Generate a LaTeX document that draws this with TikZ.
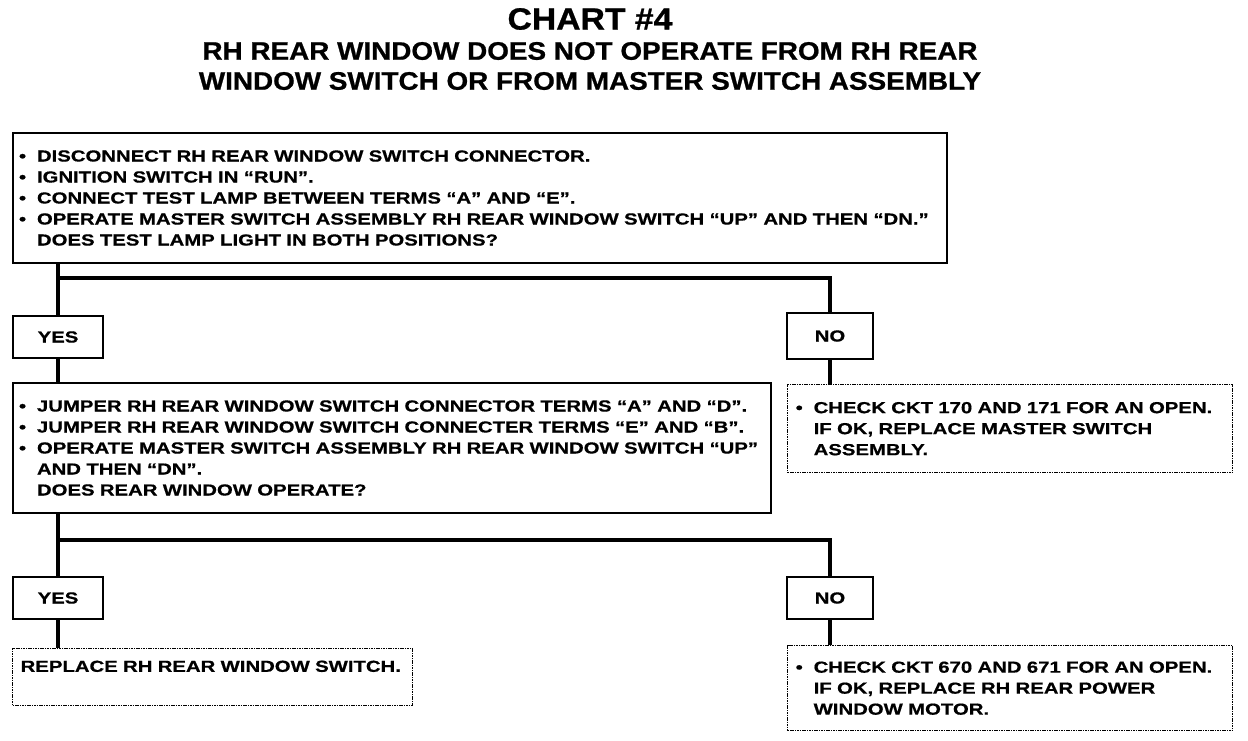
\documentclass[tikz,border=0pt]{standalone}
\usepackage{fontspec}
\setmainfont{Liberation Sans}[FakeStretch=1.27,FakeBold=0.6]
\newfontfamily\titlefont{Liberation Sans}[FakeStretch=1.1,FakeBold=0.8]
\newcommand\myb{\makebox[13.5pt][l]{•}}
\newcommand\myi{\hspace*{13.5pt}}
\begin{document}
\begin{tikzpicture}[x=0.75pt,y=-0.75pt,
  body/.style={font=\bfseries\fontsize{12}{15.75}\selectfont},
  solidbox/.style={body, draw, line width=1.5pt, anchor=north west, align=left, inner xsep=4.5pt, inner ysep=0pt},
  dotbox/.style={body, draw, line width=1pt, dash pattern=on 1.2pt off 0.6pt, anchor=north west, align=left, inner xsep=6pt, inner ysep=0pt},
  ansbox/.style={body, draw, line width=1.5pt, anchor=north west, align=center, inner sep=0pt},
  conn/.style={line width=3.6pt, line join=miter},
  ttl/.style={font=\titlefont\bfseries\fontsize{19}{22}\selectfont}]
\useasboundingbox (0,0) rectangle (1248,740);

\node[ttl, font=\titlefont\bfseries\fontsize{23}{26}\selectfont] (t1) at (590,19) {CHART \#4};
\node[ttl] (t2) at (590,51) {RH REAR WINDOW DOES NOT OPERATE FROM RH REAR};
\node[ttl] (t3) at (590,81) {WINDOW SWITCH OR FROM MASTER SWITCH ASSEMBLY};

\node[solidbox, text width=691.5pt, minimum height=97.5pt] (b1) at (12,132) {%
\myb DISCONNECT RH REAR WINDOW SWITCH CONNECTOR.\\
\myb IGNITION SWITCH IN “RUN”.\\
\myb CONNECT TEST LAMP BETWEEN TERMS “A” AND “E”.\\
\myb OPERATE MASTER SWITCH ASSEMBLY RH REAR WINDOW SWITCH “UP” AND THEN “DN.”\\
\myi DOES TEST LAMP LIGHT IN BOTH POSITIONS?};

\node[ansbox, minimum width=67.5pt, minimum height=31.5pt] (yes1) at (12,315) {YES};
\node[ansbox, minimum width=64.5pt, minimum height=34.5pt] (no1) at (786,312) {NO};

\node[solidbox, text width=559.5pt, minimum height=97.5pt] (b2) at (12,382) {%
\myb JUMPER RH REAR WINDOW SWITCH CONNECTOR TERMS “A” AND “D”.\\
\myb JUMPER RH REAR WINDOW SWITCH CONNECTER TERMS “E” AND “B”.\\
\myb OPERATE MASTER SWITCH ASSEMBLY RH REAR WINDOW SWITCH “UP”\\
\myi AND THEN “DN”.\\
\myi DOES REAR WINDOW OPERATE?};

\node[dotbox, text width=321.75pt, minimum height=66pt] (c1) at (787,384) {%
\myb CHECK CKT 170 AND 171 FOR AN OPEN.\\
\myi IF OK, REPLACE MASTER SWITCH\\
\myi ASSEMBLY.};

\node[ansbox, minimum width=67.5pt, minimum height=31.5pt] (yes2) at (12,576) {YES};
\node[ansbox, minimum width=64.5pt, minimum height=31.5pt] (no2) at (786,576) {NO};

\node[dotbox, text width=288pt, minimum height=42.75pt, text depth=18pt, text height=10pt, inner ysep=3pt] (r1) at (12,648) {REPLACE RH REAR WINDOW SWITCH.};

\node[dotbox, text width=321.75pt, minimum height=63.75pt] (c2) at (787,645) {%
\myb CHECK CKT 670 AND 671 FOR AN OPEN.\\
\myi IF OK, REPLACE RH REAR POWER\\
\myi WINDOW MOTOR.};

\coordinate (j1) at (57,278);
\coordinate (j2) at (57,540);
\draw[conn] (yes1.north |- b1.south) -- (yes1.north);
\draw[conn] (j1) -| (no1.north);
\draw[conn] (yes1.south) -- (yes1.south |- b2.north);
\draw[conn] (no1.south) -- (no1.south |- c1.north);
\draw[conn] (yes2.north |- b2.south) -- (yes2.north);
\draw[conn] (j2) -| (no2.north);
\draw[conn] (yes2.south) -- (yes2.south |- r1.north);
\draw[conn] (no2.south) -- (no2.south |- c2.north);
\end{tikzpicture}
\end{document}
